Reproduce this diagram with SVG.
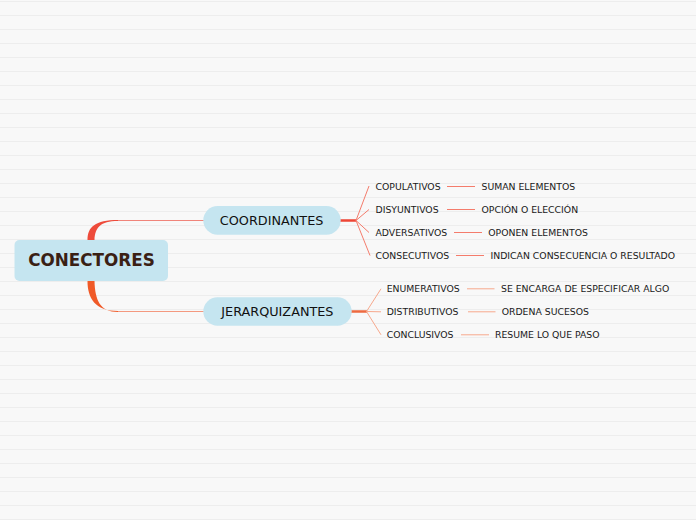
<svg xmlns="http://www.w3.org/2000/svg" width="696" height="520" viewBox="0 0 696 520">
<defs>
<pattern id="bg" x="0" y="0" width="696" height="14" patternUnits="userSpaceOnUse">
<rect x="0" y="0" width="696" height="14" fill="#f8f8f8"/>
<rect x="0" y="1" width="696" height="1" fill="#ededed"/>
</pattern>
<style>
.small{font-family:"DejaVu Sans",Verdana,sans-serif;font-size:9.3px;fill:#1a1a1a}
.mid{font-family:"DejaVu Sans",Verdana,sans-serif;font-size:12.8px;fill:#111111}
.main{font-family:"DejaVu Sans",Verdana,sans-serif;font-size:16.8px;font-weight:bold;fill:#3a2014}
.node{fill:#c5e5f0}
.l1{stroke:#f47c6c;stroke-width:1;fill:none}
.l2{stroke:#f7a88c;stroke-width:1;fill:none}
</style>
</defs>
<rect width="696" height="520" fill="url(#bg)"/>
<g id="connectors">
<path d="M87.5 240 C87.5 227 95 220 118 220 L118 221 C100 221 95 228 94.5 240 Z" fill="#ee4b3b"/>
<path d="M87.5 281 C87.5 298 95 311 118 311 L118 312 C100 312 95 300 94.5 281 Z" fill="#f05a28"/>
<line x1="118" y1="220.5" x2="204" y2="220.5" stroke="#f0847a" stroke-width="1"/>
<line x1="118" y1="311.5" x2="204" y2="311.5" stroke="#f4997f" stroke-width="1"/>
<line x1="340" y1="220.5" x2="356" y2="220.5" stroke="#ee4535" stroke-width="2.5"/>
<line x1="351" y1="311.5" x2="367" y2="311.5" stroke="#ee6a40" stroke-width="2.5"/>
<path class="l1" d="M356 220.5 L369 186 M356 220.5 L369 209.5 M356 220.5 L369 232.5 M356 220.5 L370 255.5"/>
<path class="l2" d="M366.5 311.5 L381 288.8 M366.5 311.5 L381 311.8 M366.5 311.5 L381 334.8"/>
<path class="l1" d="M447 186.5 H475 M447 209.5 H475 M454 232.5 H482 M456 255.5 H484"/>
<path class="l2" d="M467 288.8 H494.5 M468 311.8 H495.5 M461 334.8 H489"/>
</g>
<g id="n-main">
<rect class="node" x="14.5" y="240" width="153.5" height="41" rx="5"/>
<text class="main" x="91.5" y="266.4" text-anchor="middle">CONECTORES</text>
</g>
<g id="n-coord">
<rect class="node" x="203.3" y="206" width="137.4" height="28.7" rx="14.3"/>
<text class="mid" x="271.6" y="225.3" text-anchor="middle">COORDINANTES</text>
</g>
<g id="n-jer">
<rect class="node" x="203.3" y="297.3" width="148.4" height="28.4" rx="14.2"/>
<text class="mid" x="277.4" y="316.3" text-anchor="middle">JERARQUIZANTES</text>
</g>
<g id="n-copulativos"><text class="small" x="375.5" y="190">COPULATIVOS</text></g>
<g id="n-suman"><text class="small" x="481.5" y="190">SUMAN ELEMENTOS</text></g>
<g id="n-disyuntivos"><text class="small" x="375.5" y="213">DISYUNTIVOS</text></g>
<g id="n-opcion"><text class="small" x="481.5" y="213">OPCIÓN O ELECCIÓN</text></g>
<g id="n-adversativos"><text class="small" x="375.5" y="236">ADVERSATIVOS</text></g>
<g id="n-oponen"><text class="small" x="488.3" y="236">OPONEN ELEMENTOS</text></g>
<g id="n-consecutivos"><text class="small" x="375.5" y="259">CONSECUTIVOS</text></g>
<g id="n-indican"><text class="small" x="490.5" y="259">INDICAN CONSECUENCIA O RESULTADO</text></g>
<g id="n-enumerativos"><text class="small" x="386.7" y="292.3">ENUMERATIVOS</text></g>
<g id="n-seencarga"><text class="small" x="501" y="292.3">SE ENCARGA DE ESPECIFICAR ALGO</text></g>
<g id="n-distributivos"><text class="small" x="386.7" y="315.3">DISTRIBUTIVOS</text></g>
<g id="n-ordena"><text class="small" x="501.7" y="315.3">ORDENA SUCESOS</text></g>
<g id="n-conclusivos"><text class="small" x="386.7" y="338.3">CONCLUSIVOS</text></g>
<g id="n-resume"><text class="small" x="495" y="338.3">RESUME LO QUE PASO</text></g>
</svg>
